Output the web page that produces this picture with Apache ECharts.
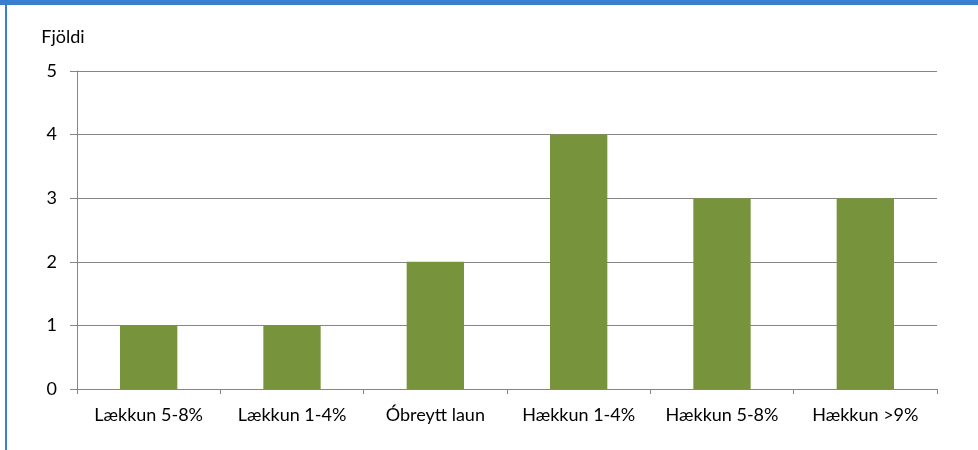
<!DOCTYPE html>
<html>
<head>
<meta charset="utf-8">
<script src="https://cdn.jsdelivr.net/npm/echarts@6/dist/echarts.min.js"></script>
<style>
    html, body { margin: 0; padding: 0; background: #fff; }
    #chart { width: 978px; height: 450px; }
</style>
</head>
<body>
<div id="chart"></div>
<script>
// flokkar og gildi
const categories = ['Lækkun 5-8%', 'Lækkun 1-4%', 'Óbreytt laun', 'Hækkun 1-4%', 'Hækkun 5-8%', 'Hækkun >9%']
const counts = [1, 1, 2, 4, 3, 3]
const yTicks = [0, 1, 2, 3, 4, 5]

const mychart = echarts.init(document.getElementById('chart'))
const font = 'Lato'

let option = {
    animation: false,
    textStyle: { fontFamily: font },
    // blár rammi efst og vinstra megin
    graphic: [
        { type: 'rect', shape: { x: 0, y: 0, width: 978, height: 5 }, style: { fill: '#3A7FCF' } },
        { type: 'rect', shape: { x: 5, y: 0, width: 2, height: 450 }, style: { fill: '#3A7FCF' } },
    ],
    grid: {
        left: 77,
        right: 41,
        top: 71,
        bottom: 61,
    },
    xAxis: {
        type: 'category',
        data: categories,
        axisLine: { lineStyle: { color: '#868686', width: 1 } },
        axisTick: { show: true, length: 5, lineStyle: { color: '#868686' } },
        axisLabel: { color: '#000', fontSize: 18, margin: 17, fontFamily: font, interval: 0 },
    },
    yAxis: {
        type: 'value',
        min: yTicks[0],
        max: yTicks[yTicks.length - 1],
        interval: 1,
        name: 'Fjöldi',
        nameLocation: 'end',
        nameGap: 25,
        nameTextStyle: { color: '#000', fontSize: 18, align: 'center', padding: [0, 0, 0, -28], fontFamily: font },
        axisLine: { show: true, lineStyle: { color: '#868686' } },
        axisTick: { show: true, length: 7, lineStyle: { color: '#868686' } },
        axisLabel: { color: '#000', fontSize: 18, margin: 20, fontFamily: font },
        splitLine: { lineStyle: { color: '#868686', width: 1 } },
    },
    series: [
        {
            name: 'Fjöldi',
            type: 'bar',
            data: counts,
            barWidth: '40%',
            itemStyle: { color: '#77933C' },
        },
    ],
}

mychart.setOption(option)
</script>
</body>
</html>
